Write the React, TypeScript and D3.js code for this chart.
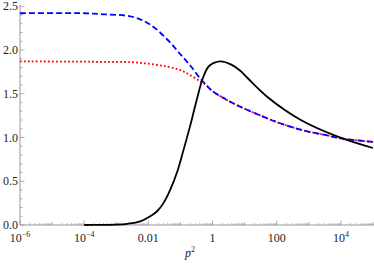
import React from 'react';
import * as d3 from 'd3';

// log10(p^2) positions and values
const blueLogP2 = [-6, -4, -3.5, -2.5, -1.94, -1.41, -1.0, -0.69, -0.375, -0.2, 0.0, 0.44, 0.875, 1.5, 2.125, 2.84, 3.5, 4.0, 5.0];
const blueVals = [2.42, 2.42, 2.41, 2.38, 2.29, 2.12, 1.95, 1.82, 1.67, 1.6, 1.53, 1.43, 1.35, 1.25, 1.16, 1.08, 1.03, 0.99, 0.95];

const redLogP2 = [-6, -3.5, -2.5, -1.94, -1.41, -1.0, -0.69, -0.375, -0.2, 0.0, 0.44, 0.875, 1.5, 2.125, 2.84, 3.5, 4.0, 5.0];
const redVals = [1.87, 1.865, 1.86, 1.84, 1.81, 1.77, 1.71, 1.64, 1.6, 1.53, 1.43, 1.35, 1.25, 1.16, 1.08, 1.03, 0.99, 0.95];

const blackLogP2 = [-4, -3.5, -3, -2.66, -2.25, -1.94, -1.72, -1.53, -1.31, -1.09, -0.91, -0.7, -0.5, -0.3, -0.1, 0.25, 0.6, 0.875, 1.09, 1.72, 2.75, 3.9, 5.0];
const blackVals = [0, 0.001, 0.005, 0.014, 0.042, 0.1, 0.16, 0.25, 0.41, 0.62, 0.85, 1.13, 1.42, 1.68, 1.82, 1.87, 1.83, 1.76, 1.68, 1.46, 1.2, 1.01, 0.88];

const xTickExps = [-6, -4, -2, 0, 2, 4];
const xTickLabels = ['10', '10', '0.01', '1', '100', '10'];
const xTickSups = ['\u22126', '\u22124', '', '', '', '4'];
const yTicks = [0, 0.5, 1.0, 1.5, 2.0, 2.5];

const W = 374, H = 268;
const left = 20, right = 373, top = 6.25, bottom = 225;
const serif = { fontFamily: '"Times New Roman", "Liberation Serif", Times, serif' };

const App = () => {
  const x = d3.scaleLog().domain([1e-6, 1e5]).range([left, right]);
  const y = d3.scaleLinear().domain([0, 2.5]).range([bottom, top]);

  const mk = (xs: number[], ys: number[]) =>
    d3.line<number>()
      .x((d, i) => x(Math.pow(10, xs[i])))
      .y(d => y(d))
      .curve(d3.curveCatmullRom.alpha(0.5))(ys) as string;

  // minor ticks
  const xMinor: { v: number; len: number }[] = [];
  for (let e = -6; e <= 5; e++) {
    xMinor.push({ v: Math.pow(10, e), len: e % 2 === 0 ? 4.5 : 3 });
    if (e < 5) for (let k = 2; k <= 9; k++) xMinor.push({ v: k * Math.pow(10, e), len: 1.8 });
  }
  const yMinor = d3.range(0, 26).map(i => i / 10);

  const axisColor = '#999';

  return (
    <svg width={W} height={H} style={{ position: 'absolute', left: 0, top: 0, background: '#fff' }}>
      {/* axes */}
      <line x1={left} x2={W} y1={bottom} y2={bottom} stroke={axisColor} strokeWidth={1} />
      <line x1={left} x2={left} y1={bottom} y2={5} stroke={axisColor} strokeWidth={1} />
      {xMinor.map((t, i) => (
        <line key={'xm' + i} x1={x(t.v)} x2={x(t.v)} y1={bottom} y2={bottom - t.len} stroke={axisColor} strokeWidth={0.8} />
      ))}
      {yMinor.map((t, i) => (
        <line key={'ym' + i} x1={left} x2={left + (i % 5 === 0 ? 4.5 : 2.5)} y1={y(t)} y2={y(t)} stroke={axisColor} strokeWidth={0.8} />
      ))}
      {yTicks.map(t => (
        <text key={'yl' + t} x={18} y={y(t)} dy="0.35em" textAnchor="end" fontSize={12} fill="#222" style={serif}>{t.toFixed(1)}</text>
      ))}
      {xTickExps.map((e, i) => (
        <text key={'xl' + e} x={x(Math.pow(10, e))} y={242} textAnchor="middle" fontSize={12} fill="#222" style={serif}>
          {xTickLabels[i]}
          {xTickSups[i] && <tspan fontSize={8} dy={-5}>{xTickSups[i]}</tspan>}
        </text>
      ))}
      <text x={190} y={257} textAnchor="middle" fontSize={12} fill="#222" style={serif}>
        <tspan fontStyle="italic">p</tspan>
        <tspan fontSize={8} dy={-5}>2</tspan>
      </text>
      {/* curves */}
      <path d={mk(redLogP2, redVals)} fill="none" stroke="#f00" strokeWidth={1.8} strokeDasharray="1.8,2.2" />
      <path d={mk(blueLogP2, blueVals)} fill="none" stroke="#00f" strokeWidth={1.8} strokeDasharray="6,3" />
      <path d={mk(blackLogP2, blackVals)} fill="none" stroke="#000" strokeWidth={1.8} />
    </svg>
  );
};

export default App;
